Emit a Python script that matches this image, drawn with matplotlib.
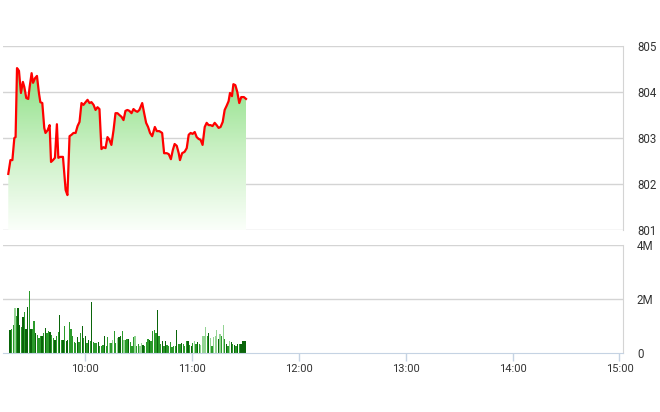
import matplotlib.pyplot as plt
import numpy as np
from matplotlib.colors import LinearSegmentedColormap

# intraday index, minutes of day (9:00 = 540)
price_t = [556.8, 558.0, 559.1, 560.2, 560.9, 561.7, 562.8, 563.9, 565.0, 565.8,
           566.9, 568.0, 568.8, 569.9, 570.7, 571.8, 572.9, 574.0, 574.8, 575.9,
           577.0, 577.7, 578.9, 580.0, 580.8, 581.9, 583.0, 584.1, 584.9, 586.0,
           587.5, 589.0, 590.0, 591.2, 592.3, 593.4, 594.6, 595.7, 596.8, 597.9,
           599.0, 600.2, 601.3, 602.4, 603.5, 604.7, 605.8, 606.9, 608.0, 609.1,
           610.2, 611.4, 612.5, 613.6, 614.7, 615.9, 617.0, 618.1, 619.2, 620.4,
           621.5, 622.6, 623.7, 624.8, 626.0, 627.1, 628.2, 629.3, 630.4, 632.0,
           633.1, 634.2, 635.3, 636.4, 637.6, 639.1, 640.2, 641.6, 643.2, 644.3,
           645.8, 646.9, 648.1, 649.2, 650.2, 651.4, 652.5, 653.2, 654.4, 655.8,
           657.0, 658.1, 659.2, 660.3, 661.5, 662.6, 663.7, 664.8, 665.9, 667.1,
           668.2, 669.3, 670.4, 671.5, 672.7, 673.8, 674.9, 676.0, 677.2, 678.3,
           679.4, 680.5, 681.3, 682.4, 683.2, 684.3, 685.4, 686.5, 687.6, 689.1,
           690.3]
price = [802.22, 802.52, 802.52, 803.00, 803.02, 804.52, 804.46, 803.98, 804.22, 804.11,
         803.87, 803.85, 804.11, 804.41, 804.20, 804.30, 804.35, 803.98, 803.78, 803.76,
         803.22, 803.11, 803.17, 803.28, 802.48, 802.52, 802.57, 803.30, 802.57, 802.59,
         802.59, 801.87, 801.76, 803.04, 803.07, 803.11, 803.11, 803.26, 803.35, 803.76,
         803.72, 803.78, 803.83, 803.76, 803.78, 803.72, 803.61, 803.67, 803.63, 802.76,
         802.80, 802.78, 803.02, 802.96, 802.85, 803.17, 803.54, 803.54, 803.50, 803.46,
         803.39, 803.59, 803.61, 803.59, 803.54, 803.63, 803.59, 803.57, 803.61, 803.76,
         803.54, 803.33, 803.24, 803.11, 803.04, 803.24, 803.15, 803.15, 803.11, 802.67,
         802.67, 802.65, 802.54, 802.74, 802.87, 802.83, 802.67, 802.52, 802.67, 802.70,
         802.78, 803.07, 803.11, 803.09, 803.13, 803.02, 802.98, 802.96, 802.85, 803.24,
         803.33, 803.28, 803.28, 803.26, 803.33, 803.28, 803.22, 803.24, 803.35, 803.61,
         803.70, 803.80, 803.98, 803.91, 804.17, 804.15, 804.00, 803.76, 803.89, 803.89,
         803.85]

# volume in millions, d = dark, m = mid, l = light bar
volume = [0.86, 0.89, 1.05, 1.67, 1.38, 1.67, 1.05, 0.96, 1.33, 1.51,
          0.89, 1.70, 2.28, 0.89, 0.89, 1.17, 0.74, 0.68, 0.56, 0.62,
          0.62, 0.74, 0.93, 0.74, 0.80, 0.77, 0.68, 0.56, 0.49, 0.64,
          0.77, 1.42, 0.49, 0.47, 0.99, 0.43, 0.49, 1.14, 0.89, 0.64,
          0.40, 0.37, 0.59, 0.40, 0.74, 0.99, 0.56, 0.62, 0.37, 0.49,
          0.43, 1.88, 0.40, 0.37, 0.37, 0.40, 0.25, 0.25, 0.31, 0.62,
          0.25, 0.59, 0.37, 0.37, 0.47, 0.80, 0.37, 0.56, 0.59, 0.64,
          0.80, 0.49, 0.49, 0.52, 0.52, 0.40, 0.27, 0.59, 0.62, 0.27,
          0.35, 0.25, 0.37, 0.31, 0.27, 0.40, 0.52, 0.49, 0.43, 0.80,
          0.86, 0.74, 1.60, 0.64, 0.35, 0.43, 0.27, 0.43, 0.31, 0.27,
          0.40, 0.22, 0.25, 0.27, 0.86, 0.35, 0.35, 0.37, 0.35, 0.25,
          0.43, 0.43, 0.31, 0.25, 0.37, 0.43, 0.35, 0.40, 0.35, 0.31,
          0.62, 0.64, 0.96, 0.62, 0.74, 0.56, 0.25, 0.59, 0.62, 0.84,
          0.52, 0.72, 0.62, 1.05, 0.52, 0.35, 0.25, 0.43, 0.40, 0.35,
          0.31, 0.27, 0.35, 0.35, 0.35, 0.43, 0.43, 0.43]
vol_shade = ("dmmlmddmdm" "ddmdmmdmmm" "dmdmmdmmdm" "mdmdmddmmm"
             "mmdmmdmdmd" "mdmmmdmmmd" "mmlmlmmldd" "mlmmdmmmlm"
             "mlldmmmdmm" "mmdmmdmdmm" "mmmmdmmdmm" "mdmdmlmdml"
             "lllmdlmlll" "dlmlmdmldm" "dmdmdddd")
vol_start, vol_step = 557.8, 0.9

hours = [600, 660, 720, 780, 840, 900]
hour_labels = ["10:00", "11:00", "12:00", "13:00", "14:00", "15:00"]
price_ticks = [801, 802, 803, 804, 805]
vol_ticks = [0, 2, 4]
vol_labels = ["0", "2M", "4M"]

shade_colors = {"d": "#0a650a", "m": "#2a9a2a", "l": "#94d494"}
grid_c = "#d4d4d4"
text_c = "#333333"
plt.rcParams["font.family"] = ["Roboto", "DejaVu Sans"]

fig = plt.figure(figsize=(6.6, 4.12), dpi=100)
ax1 = fig.add_axes([0.005, 0.4417, 0.939, 0.4466])
ax2 = fig.add_axes([0.005, 0.1432, 0.939, 0.2621])
xlim = (554, 902)

# price panel
ax1.set_xlim(*xlim)
ax1.set_ylim(801, 805)
cmap = LinearSegmentedColormap.from_list("g", ["#fbfffa", "#c8f0c2", "#88de80"])
grad = np.linspace(0, 1, 256).reshape(-1, 1)
img = ax1.imshow(grad, cmap=cmap, origin="lower", aspect="auto",
                 extent=[price_t[0], price_t[-1], 801, 804.6], zorder=1)
poly = ax1.fill_between(price_t, price, 801, color="none", lw=0)
path = poly.get_paths()[0]
img.set_clip_path(path, transform=ax1.transData)
ax1.plot(price_t, price, color="#ff0000", lw=1.6, zorder=3)
for v in price_ticks:
    ax1.axhline(v, color=grid_c, lw=1, zorder=0)
ax1.set_yticks(price_ticks)
ax1.set_yticklabels([str(v) for v in price_ticks])
ax1.set_xticks([])
for s in ["top", "left", "bottom"]:
    ax1.spines[s].set_visible(False)
ax1.spines["right"].set_color(grid_c)

# volume panel
ax2.set_xlim(*xlim)
ax2.set_ylim(0, 4)
vol_t = vol_start + vol_step * np.arange(len(volume))
colors = [shade_colors[c] for c in vol_shade[:len(volume)]]
ax2.bar(vol_t, volume, width=0.72, color=colors, lw=0, zorder=2)
for v in [2, 4]:
    ax2.axhline(v, color=grid_c, lw=1, zorder=0)
ax2.set_yticks(vol_ticks)
ax2.set_yticklabels(vol_labels)
ax2.set_xticks(hours)
ax2.set_xticklabels(hour_labels)
for s in ["top", "left"]:
    ax2.spines[s].set_visible(False)
ax2.spines["right"].set_color(grid_c)
ax2.spines["bottom"].set_color("#c5d3e3")

for ax in (ax1, ax2):
    ax.yaxis.tick_right()
    ax.tick_params(axis="y", length=0, pad=10, labelsize=8.3, colors=text_c)
ax2.tick_params(axis="x", length=6, width=1, color="#c5d3e3", labelsize=8,
                labelcolor=text_c, pad=2)

fig.savefig("out.png", dpi=100)
